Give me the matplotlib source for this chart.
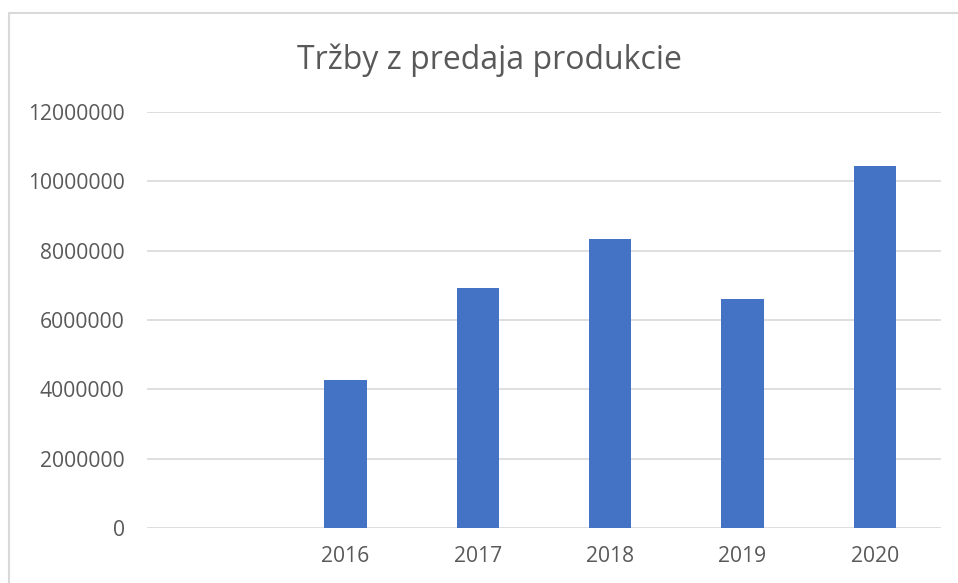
#!/usr/bin/env python3
"""Trzby z predaja produkcie - stlpcovy graf (Excel styl)."""

import numpy as np
import matplotlib
matplotlib.use("Agg")
import matplotlib.pyplot as plt
from matplotlib.patches import Rectangle

# ---------------------------------------------------------------------------
# Data
# ---------------------------------------------------------------------------
kategorie = ["", "2016", "2017", "2018", "2019", "2020"]
trzby = [np.nan, 4280000, 6930000, 8350000, 6610000, 10440000]
y_ticks = [0, 2000000, 4000000, 6000000, 8000000, 10000000, 12000000]

TITLE = "Tržby z predaja produkcie"
BAR_COLOR = "#4472C4"
TEXT_COLOR = "#595959"
GRID_COLOR = "#D9D9D9"

W, H, DPI = 958, 583, 100

plt.rcParams["font.family"] = ["Open Sans", "DejaVu Sans"]

fig = plt.figure(figsize=(W / DPI, H / DPI), dpi=DPI)

# ramcek grafu (pravy a dolny okraj su mimo obrazka)
fig.patches.append(Rectangle((9 / W, -0.1), 1.2, 1.1 - 13 / H, transform=fig.transFigure,
                             fill=False, edgecolor=GRID_COLOR, linewidth=1.5))

# os: x 147..941, y 112..528 (px)
ax = fig.add_axes([147 / W, 1 - 528 / H, (941 - 147) / W, (528 - 112) / H])

x = np.arange(len(kategorie))
ax.bar(x, trzby, width=0.32, color=BAR_COLOR, zorder=3)

ax.set_xlim(-0.5, len(kategorie) - 0.5)
ax.set_ylim(0, 12000000)
ax.set_yticks(y_ticks)
ax.set_yticklabels([str(v) for v in y_ticks])
ax.set_xticks(x)
ax.set_xticklabels(kategorie)

ax.grid(axis="y", color=GRID_COLOR, linewidth=1.2, zorder=0)
ax.set_axisbelow(True)
for s in ax.spines.values():
    s.set_visible(False)
ax.tick_params(axis="both", length=0, labelsize=15.2, colors=TEXT_COLOR)
ax.tick_params(axis="y", pad=16)
ax.tick_params(axis="x", pad=13)

fig.text(489 / W, 1 - 60 / H, TITLE, ha="center", va="center",
         fontsize=23, color=TEXT_COLOR)

fig.savefig("out.png", dpi=DPI)
plt.close(fig)
